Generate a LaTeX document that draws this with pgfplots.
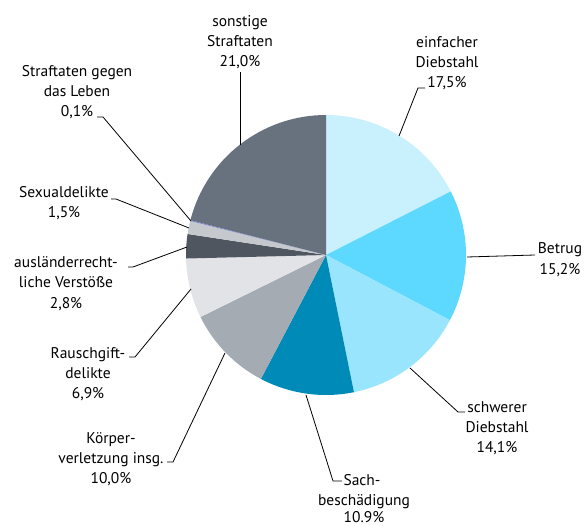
\documentclass[border=0pt]{standalone}
\usepackage{pgfplots}
\usepackage{pgfplotstable}
\pgfplotsset{compat=1.18}
\usepackage{fontspec}
\setmainfont{PT Sans}
\definecolor{c1}{HTML}{C8F0FD}
\definecolor{c2}{HTML}{5DD8FE}
\definecolor{c3}{HTML}{99E5FD}
\definecolor{c4}{HTML}{008AB7}
\definecolor{c5}{HTML}{A5ABB3}
\definecolor{c6}{HTML}{E1E3E7}
\definecolor{c7}{HTML}{505660}
\definecolor{c8}{HTML}{C5C9CE}
\definecolor{c9}{HTML}{7D86D6}
\definecolor{c10}{HTML}{68727E}
\pgfplotstableread{
value color
17.5 c1
15.2 c2
14.1 c3
10.9 c4
10.0 c5
6.9 c6
2.8 c7
1.5 c8
0.1 c9
21.0 c10
}\piedata
\newcommand{\lab}[3]{\node[anchor=base,inner sep=0pt] at (axis cs:#1,{525-#2}) {#3};}
\newcommand{\lead}[1]{\draw[black,line width=0.8pt] #1;}
\begin{document}
\fontsize{15.5}{20}\selectfont
\begin{tikzpicture}
\useasboundingbox (0,0) rectangle (585pt,525pt);
\begin{axis}[
  at={(0,0)}, anchor=south west,
  x=1pt, y=1pt, xmin=0, xmax=585, ymin=0, ymax=525,
  scale only axis, hide axis, clip=false,
]
\def\cum{0}
\pgfplotsforeachungrouped \i in {0,...,9} {
  \pgfplotstablegetelem{\i}{value}\of\piedata \let\v\pgfplotsretval
  \pgfplotstablegetelem{\i}{color}\of\piedata \let\c\pgfplotsretval
  \pgfmathsetmacro\astart{90-3.6*\cum}
  \pgfmathsetmacro\aend{90-3.6*(\cum+\v)}
  \pgfmathsetmacro\cum{\cum+\v}
  \edef\temp{\noexpand\fill[\c] (axis cs:326,270) -- ++(\astart:140pt) arc[start angle=\astart, end angle=\aend, radius=140pt] -- cycle;}
  \temp
}
% leader lines
\lead{(axis cs:240,{525-72}) -- (axis cs:240,{525-145})}
\lead{(axis cs:97,{525-117}) -- (axis cs:103,{525-117}) -- (axis cs:191,{525-221})}
\lead{(axis cs:111,{525-199}) -- (axis cs:116,{525-199}) -- (axis cs:189,{525-228})}
\lead{(axis cs:128,{525-267}) -- (axis cs:133,{525-267}) -- (axis cs:187,{525-247})}
\lead{(axis cs:129,{525-357}) -- (axis cs:135,{525-357}) -- (axis cs:191,{525-289})}
\lead{(axis cs:167,{525-462}) -- (axis cs:173,{525-462}) -- (axis cs:225,{525-353})}
\lead{(axis cs:342,{525-481}) -- (axis cs:333,{525-481}) -- (axis cs:306,{525-395})}
\lead{(axis cs:465,{525-412}) -- (axis cs:458,{525-412}) -- (axis cs:410,{525-368})}
\lead{(axis cs:535,{525-255}) -- (axis cs:467,{525-257})}
\lead{(axis cs:425,{525-88}) -- (axis cs:418,{525-88}) -- (axis cs:399,{525-136})}
% labels
\lab{240}{27}{sonstige}
\lab{240}{47}{Straftaten}
\lab{240}{67}{21,0\%}
\lab{77}{77}{Straftaten gegen}
\lab{77}{97}{das Leben}
\lab{77}{117}{0,1\%}
\lab{64}{198}{Sexualdelikte}
\lab{64}{218}{1,5\%}
\lab{66}{268}{ausländerrecht-}
\lab{66}{288}{liche Verstöße}
\lab{66}{308}{2,8\%}
\lab{88}{358}{Rauschgift-}
\lab{88}{378}{delikte}
\lab{88}{398}{6,9\%}
\lab{111}{443}{Körper-}
\lab{111}{463}{verletzung insg.}
\lab{111}{483}{10,0\%}
\lab{362}{485}{Sach-}
\lab{364}{505}{beschädigung}
\lab{364}{522}{10.9\%}
\lab{497}{412}{schwerer}
\lab{497}{432}{Diebstahl}
\lab{497}{452}{14,1\%}
\lab{560}{254}{Betrug}
\lab{560}{275}{15,2\%}
\lab{447}{48}{einfacher}
\lab{447}{68}{Diebstahl}
\lab{447}{88}{17,5\%}
\end{axis}
\end{tikzpicture}
\end{document}
